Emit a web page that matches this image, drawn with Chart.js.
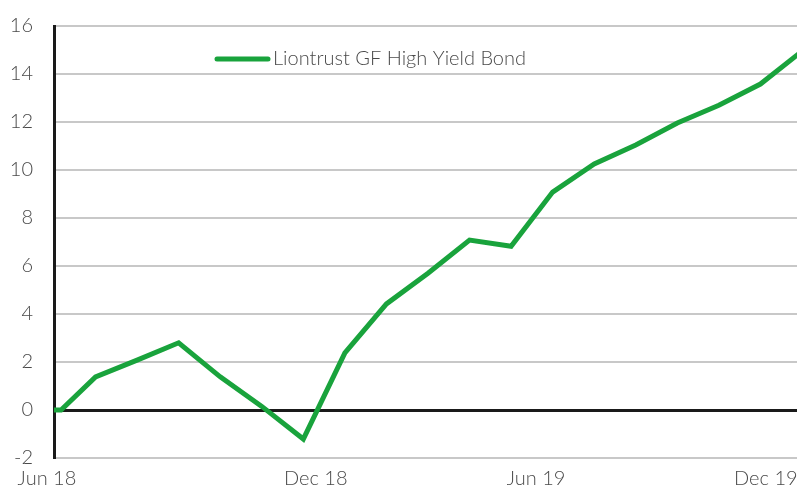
<!DOCTYPE html>
<html>
<head>
    <script src="https://cdn.jsdelivr.net/npm/chart.js@4.4.0/dist/chart.umd.min.js"></script>
    <style>
        html, body { margin: 0; padding: 0; background: #fff; }
        .chartBox { width: 797px; height: 486px; }
    </style>
</head>
<body>
<div class="chartBox">
    <canvas id="myChart"></canvas>
</div>

<script>
    // data (x = months since Jun 18)
    const seriesName = 'Liontrust GF High Yield Bond';
    const months = [0, 0.17, 1, 2, 3, 4, 5, 6, 7, 8, 9, 10, 11, 12, 13, 14, 15, 16, 17, 18];
    const returns = [0, 0, 1.38, 2.08, 2.8, 1.38, 0.15, -1.21, 2.38, 4.42, 5.7, 7.08, 6.82, 9.08, 10.25, 11.04, 11.96, 12.7, 13.58, 14.95];
    const tickLabels = ['Jun 18', 'Dec 18', 'Jun 19', 'Dec 19'];
    const tickMonths = [-0.17, 6.3, 11.6, 17.13];
    const yTicks = [-2, 0, 2, 4, 6, 8, 10, 12, 14, 16];

    const green = '#19a33c';
    const textGrey = '#4a4a4a';

    Chart.defaults.font.family = 'Lato';
    Chart.defaults.font.size = 20;
    Chart.defaults.font.weight = 300;
    Chart.defaults.color = textGrey;

    //legend drawn inside the plot
    const insideLegend = {
        id: 'insideLegend',
        afterDraw(chart) {
            const ctx = chart.ctx;
            ctx.save();
            ctx.strokeStyle = green;
            ctx.lineWidth = 5;
            ctx.lineCap = 'round';
            ctx.beginPath();
            ctx.moveTo(217, 59);
            ctx.lineTo(268, 59);
            ctx.stroke();
            ctx.fillStyle = textGrey;
            ctx.font = '300 20px Lato';
            ctx.textBaseline = 'middle';
            ctx.fillText(chart.data.datasets[0].label, 273, 59);
            ctx.restore();
        }
    };

    const data = {
        datasets: [{
            label: seriesName,
            data: months.map((m, i) => ({x: m, y: returns[i]})),
            borderColor: green,
            borderWidth: 5,
            pointRadius: 0,
            tension: 0,
            borderJoinStyle: 'miter'
        }]
    };

    const config = {
        type: 'line',
        data,
        plugins: [insideLegend],
        options: {
            responsive: true,
            maintainAspectRatio: false,
            animation: false,
            layout: {
                padding: {top: 26, right: 0, left: 0, bottom: 0}
            },
            plugins: {
                legend: { display: false },
                tooltip: { enabled: false }
            },
            scales: {
                x: {
                    type: 'linear',
                    min: 0,
                    max: 17.88,
                    afterBuildTicks: (scale) => {
                        scale.ticks = tickMonths.map(v => ({value: v}));
                    },
                    afterFit: (scale) => {
                        scale.height = 28;
                        scale.paddingLeft = 0;
                        scale.paddingRight = 0;
                    },
                    ticks: {
                        autoSkip: false,
                        maxRotation: 0,
                        padding: 9,
                        callback: (v, i) => tickLabels[i]
                    },
                    grid: { display: false, drawTicks: false },
                    border: { display: false }
                },
                y: {
                    min: -2,
                    max: 16,
                    afterBuildTicks: (scale) => {
                        scale.ticks = yTicks.map(v => ({value: v}));
                    },
                    afterFit: (scale) => {
                        scale.width = 54;
                        scale.paddingTop = 0;
                        scale.paddingBottom = 0;
                    },
                    ticks: {
                        padding: 21
                    },
                    grid: {
                        drawTicks: false,
                        color: (c) => c.tick && c.tick.value === 0 ? '#1a1a1a' : '#c8c8c8',
                        lineWidth: (c) => c.tick && c.tick.value === 0 ? 3 : 2
                    },
                    border: { display: true, color: '#1a1a1a', width: 3 }
                }
            }
        }
    };

    const myChart = new Chart(document.getElementById('myChart'), config);
</script>
</body>
</html>
